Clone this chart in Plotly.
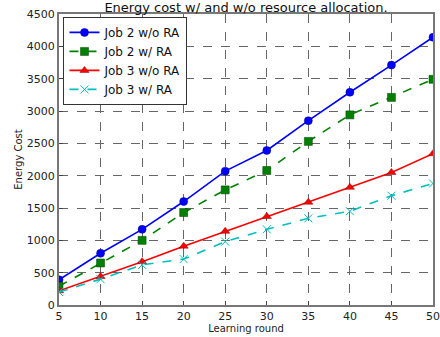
import plotly.graph_objects as go

rounds = [5, 10, 15, 20, 25, 30, 35, 40, 45, 50]
job2_wo_ra = [390, 800, 1170, 1600, 2070, 2390, 2850, 3290, 3710, 4140]
job2_w_ra = [290, 650, 1000, 1430, 1780, 2080, 2530, 2940, 3210, 3490]
job3_wo_ra = [220, 440, 670, 910, 1140, 1370, 1590, 1820, 2050, 2340]
job3_w_ra = [200, 400, 620, 710, 980, 1170, 1340, 1450, 1690, 1880]

fig = go.Figure()
fig.add_trace(go.Scatter(x=rounds, y=job2_wo_ra, name="Job 2 w/o RA", mode="lines+markers",
                         line=dict(color="#0000ff", width=1.6),
                         marker=dict(symbol="circle", size=8, color="#0000ff", line=dict(color="#000080", width=0.5))))
fig.add_trace(go.Scatter(x=rounds, y=job2_w_ra, name="Job 2 w/ RA", mode="lines+markers",
                         line=dict(color="#008000", width=1.6, dash="dash"),
                         marker=dict(symbol="square", size=8, color="#008000", line=dict(color="#004000", width=0.5))))
fig.add_trace(go.Scatter(x=rounds, y=job3_wo_ra, name="Job 3 w/o RA", mode="lines+markers",
                         line=dict(color="#ff0000", width=1.6),
                         marker=dict(symbol="triangle-up", size=8, color="#ff0000", line=dict(color="#800000", width=0.5))))
fig.add_trace(go.Scatter(x=rounds, y=job3_w_ra, name="Job 3 w/ RA", mode="lines+markers",
                         line=dict(color="#00bfbf", width=1.6, dash="dash"),
                         marker=dict(symbol="x-thin", size=8, color="#00bfbf", line=dict(color="#00bfbf", width=1))))

axis_common = dict(showline=True, linecolor="#777777", linewidth=2, mirror=True,
                   showgrid=True, gridcolor="#666666", griddash="dash", gridwidth=0.8,
                   ticks="inside", ticklen=4, tickcolor="#444444", zeroline=False,
                   automargin=False,
                   tickfont=dict(family="DejaVu Sans", size=11, color="#222222"))

fig.update_xaxes(range=[5, 50], tickvals=[5, 10, 15, 20, 25, 30, 35, 40, 45, 50],
                 title=dict(text="Learning round", font=dict(family="DejaVu Sans", size=10, color="#222222"), standoff=1),
                 **axis_common)
fig.update_yaxes(range=[0, 4500], tickvals=[0, 500, 1000, 1500, 2000, 2500, 3000, 3500, 4000, 4500],
                 title=dict(text="Energy Cost", font=dict(family="DejaVu Sans", size=10, color="#222222"), standoff=2),
                 **axis_common)

fig.update_layout(
    width=440, height=337,
    autosize=False,
    margin=dict(l=59, r=7, t=14, b=32, autoexpand=False),
    paper_bgcolor="white", plot_bgcolor="white",
    title=dict(text="Energy cost w/ and w/o resource allocation.", x=0.5, xanchor="center",
               xref="paper", yref="container", y=0.979, yanchor="middle", automargin=False,
               font=dict(family="DejaVu Sans", size=13, color="#111111")),
    legend=dict(x=0.012, y=0.99, xanchor="left", yanchor="top", bgcolor="white",
                bordercolor="#333333", borderwidth=1,
                font=dict(family="DejaVu Sans", size=12, color="#111111"),
                tracegroupgap=0, itemwidth=30),
    showlegend=True,
)

fig.write_html("out.html", config={"displayModeBar": False},
               post_script="document.body.style.margin='0';document.body.style.overflow='hidden';")
